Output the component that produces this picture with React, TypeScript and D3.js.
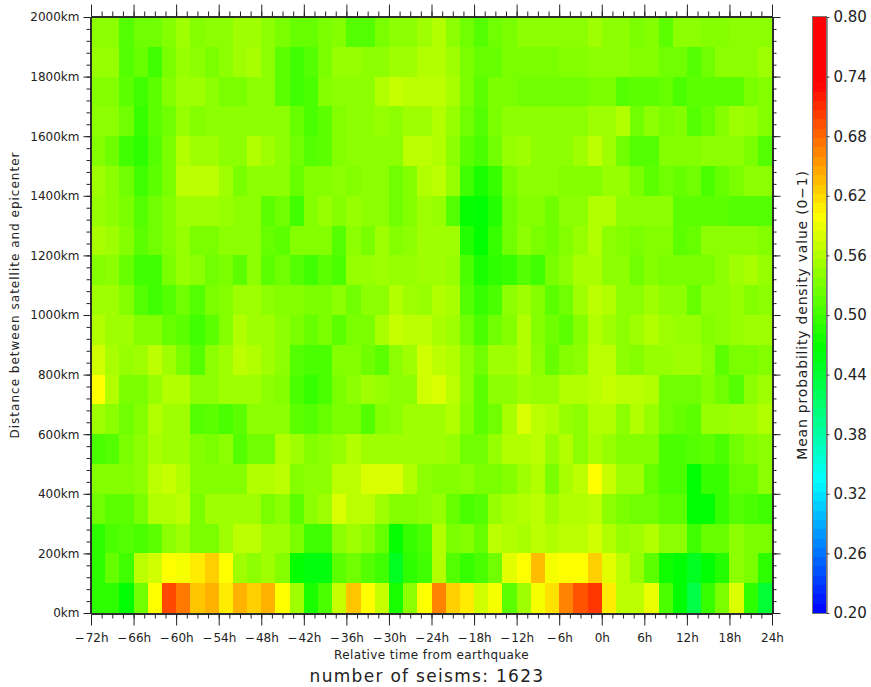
import * as d3 from "d3";
import { useEffect, useRef } from "react";

const width = 871;
const height = 687;

// mean probability density, one list per 100km band, left to right from -72h in 2h steps
const km0 = [.49,.49,.465,.525,.60,.695,.67,.63,.64,.61,.64,.625,.64,.60,.55,.48,.505,.57,.63,.60,.57,.48,.54,.60,.665,.625,.61,.575,.595,.515,.55,.595,.615,.665,.69,.705,.61,.565,.565,.59,.505,.465,.43,.495,.53,.58,.49,.44];
const km100 = [.49,.52,.50,.565,.575,.60,.595,.61,.625,.60,.55,.54,.55,.535,.467,.46,.46,.515,.525,.51,.50,.45,.49,.50,.56,.51,.495,.505,.525,.585,.60,.635,.595,.60,.60,.625,.585,.565,.545,.515,.475,.465,.45,.465,.485,.54,.53,.49];
const km200 = [.49,.505,.51,.505,.515,.54,.55,.53,.53,.55,.565,.565,.55,.55,.53,.50,.50,.54,.55,.54,.52,.47,.495,.505,.56,.53,.535,.52,.565,.56,.555,.565,.56,.565,.565,.575,.56,.545,.55,.56,.54,.54,.50,.52,.52,.54,.53,.53];
const km300 = [.525,.515,.515,.53,.56,.56,.565,.53,.55,.55,.55,.55,.53,.54,.515,.54,.55,.58,.565,.565,.55,.535,.535,.54,.545,.52,.505,.51,.545,.555,.56,.565,.55,.56,.56,.565,.54,.53,.525,.525,.515,.515,.465,.465,.495,.51,.505,.50];
const km400 = [.535,.535,.535,.54,.565,.57,.56,.535,.535,.535,.535,.56,.56,.565,.535,.54,.54,.565,.565,.58,.58,.58,.56,.54,.535,.535,.54,.53,.53,.535,.55,.56,.53,.555,.565,.60,.57,.55,.55,.52,.505,.505,.465,.495,.495,.52,.52,.54];
const km500 = [.505,.51,.53,.54,.555,.55,.55,.535,.53,.54,.51,.525,.525,.56,.55,.535,.54,.545,.56,.55,.55,.55,.55,.55,.55,.545,.525,.525,.545,.56,.56,.565,.545,.56,.54,.555,.545,.535,.535,.535,.505,.505,.51,.515,.505,.525,.535,.54];
const km600 = [.55,.54,.525,.535,.56,.55,.55,.51,.515,.505,.515,.54,.54,.54,.515,.51,.52,.53,.53,.51,.535,.54,.55,.55,.55,.56,.535,.515,.525,.555,.58,.565,.56,.545,.54,.56,.56,.54,.56,.545,.525,.52,.515,.545,.545,.55,.55,.56];
const km700 = [.60,.56,.53,.53,.545,.56,.56,.54,.54,.55,.55,.55,.54,.535,.505,.495,.505,.53,.54,.55,.545,.54,.54,.575,.58,.565,.54,.515,.54,.54,.55,.545,.545,.56,.56,.565,.57,.565,.565,.56,.525,.525,.525,.535,.525,.51,.54,.55];
const km800 = [.575,.555,.545,.55,.565,.55,.53,.51,.54,.55,.565,.56,.55,.54,.51,.505,.505,.535,.535,.525,.515,.54,.55,.575,.565,.56,.54,.525,.55,.55,.56,.54,.52,.535,.54,.565,.565,.54,.535,.545,.545,.55,.55,.54,.515,.53,.53,.535];
const km900 = [.56,.55,.55,.535,.535,.52,.515,.50,.515,.535,.56,.55,.55,.54,.53,.52,.53,.515,.53,.53,.555,.57,.565,.565,.555,.55,.525,.505,.525,.535,.56,.535,.525,.515,.535,.56,.55,.54,.55,.56,.55,.545,.545,.535,.54,.545,.55,.55];
const km1000 = [.55,.55,.535,.51,.50,.51,.525,.51,.53,.535,.55,.55,.54,.535,.535,.53,.53,.54,.525,.54,.54,.56,.55,.545,.56,.555,.51,.495,.505,.54,.55,.535,.515,.525,.55,.565,.56,.54,.54,.55,.54,.54,.52,.54,.54,.545,.535,.54];
const km1100 = [.535,.54,.52,.50,.50,.53,.545,.54,.525,.53,.515,.54,.515,.525,.51,.50,.515,.505,.545,.545,.55,.545,.545,.55,.55,.545,.505,.48,.49,.495,.51,.50,.53,.54,.555,.555,.54,.54,.525,.535,.53,.53,.53,.53,.54,.55,.555,.545];
const km1200 = [.555,.55,.535,.515,.525,.535,.545,.53,.53,.54,.54,.54,.52,.515,.535,.535,.535,.51,.54,.53,.55,.535,.54,.55,.55,.55,.485,.467,.495,.525,.54,.53,.525,.535,.545,.56,.54,.535,.53,.535,.535,.515,.52,.54,.54,.54,.54,.535];
const km1300 = [.545,.54,.53,.51,.525,.535,.55,.55,.55,.545,.54,.54,.515,.525,.50,.535,.545,.535,.545,.54,.54,.525,.535,.55,.545,.51,.47,.465,.485,.525,.535,.535,.525,.54,.54,.56,.56,.54,.54,.54,.54,.515,.515,.515,.515,.51,.51,.51];
const km1400 = [.55,.54,.525,.50,.515,.53,.565,.565,.565,.55,.53,.54,.54,.54,.52,.535,.535,.54,.535,.54,.54,.525,.535,.56,.565,.545,.50,.48,.495,.53,.54,.54,.54,.535,.535,.535,.545,.545,.53,.515,.525,.52,.525,.505,.52,.53,.54,.54];
const km1500 = [.535,.525,.50,.49,.51,.53,.56,.55,.55,.54,.54,.56,.55,.54,.525,.51,.515,.535,.54,.54,.54,.54,.565,.565,.56,.54,.515,.505,.525,.545,.55,.54,.54,.54,.55,.565,.55,.525,.51,.51,.535,.535,.535,.54,.54,.54,.53,.51];
const km1600 = [.54,.54,.525,.495,.515,.525,.545,.535,.54,.54,.54,.54,.54,.54,.52,.505,.515,.535,.54,.54,.545,.54,.55,.55,.56,.545,.525,.51,.53,.54,.54,.54,.54,.54,.54,.55,.55,.56,.525,.54,.53,.535,.51,.52,.535,.55,.545,.535];
const km1700 = [.535,.535,.515,.50,.515,.535,.55,.55,.54,.53,.53,.54,.54,.515,.50,.505,.535,.54,.54,.54,.56,.57,.565,.565,.565,.555,.53,.515,.53,.53,.525,.525,.525,.525,.525,.53,.53,.51,.515,.515,.52,.505,.515,.515,.515,.515,.53,.535];
const km1800 = [.545,.545,.51,.52,.50,.53,.545,.54,.53,.54,.55,.555,.54,.515,.50,.51,.53,.545,.545,.54,.54,.55,.55,.56,.56,.55,.53,.52,.52,.53,.53,.53,.53,.535,.535,.54,.54,.54,.535,.535,.525,.525,.51,.525,.54,.54,.54,.55];
const km1900 = [.54,.54,.51,.525,.525,.535,.55,.535,.54,.54,.55,.55,.54,.53,.52,.52,.53,.535,.51,.51,.53,.54,.54,.55,.56,.54,.525,.51,.525,.53,.54,.54,.54,.54,.54,.55,.54,.54,.53,.535,.515,.54,.54,.535,.535,.54,.54,.54];
const bands = [km0,km100,km200,km300,km400,km500,km600,km700,km800,km900,km1000,km1100,km1200,km1300,km1400,km1500,km1600,km1700,km1800,km1900];

const hourTicks = [-72,-66,-60,-54,-48,-42,-36,-30,-24,-18,-12,-6,0,6,12,18,24];
const kmTicks = [0,200,400,600,800,1000,1200,1400,1600,1800,2000];
const barTicks = [0.2,0.26,0.32,0.38,0.44,0.5,0.56,0.62,0.68,0.74,0.8];
const colorStops = ["#0000ff","#00ffff","#00ff00","#ffff00","#ff0000","#ff0000"];

const x = d3.scaleLinear().domain([-72, 24]).range([91, 772]);
const y = d3.scaleLinear().domain([0, 2000]).range([613, 17]);
const barY = d3.scaleLinear().domain([0.2, 0.8]).range([613, 17]);

const ramp = d3.scaleLinear<string>()
   .domain([0.2, 0.3333, 0.4667, 0.6, 0.7333, 0.8])
   .range(colorStops)
   .interpolate(d3.interpolateRgb);
const levels = d3.range(64).map((i) => 0.2 + ((i + 0.5) * 0.6) / 64);

const minus = (s: string) => s.replace("-", "\u2212\u200a");
const fontFamily = "'DejaVu Sans', sans-serif";
const ink = "#222";

function App() {
   const axes = useRef<SVGGElement>(null);

   useEffect(() => {
      const g = d3.select(axes.current);
      g.selectAll("*").remove();

      const minorHours = d3.range(-72, 24.01, 1.5);
      const minorKm = d3.range(0, 2000.1, 40);

      const draw = (axis: any, tx: number, ty: number, labels: boolean) => {
         const sel = g.append("g").attr("transform", `translate(${tx},${ty})`).call(axis);
         sel.selectAll("line").attr("stroke", ink);
         sel.select(".domain").attr("stroke", ink).attr("stroke-width", 1.5);
         if (labels) {
            sel.selectAll("text").attr("font-family", fontFamily).attr("font-size", 12).attr("fill", ink);
         }
         return sel;
      };

      // bottom
      draw(d3.axisBottom(x).tickValues(minorHours).tickSize(5).tickSizeOuter(0).tickFormat(() => ""), 0, 613.5, false);
      draw(
         d3.axisBottom(x).tickValues(hourTicks).tickSize(12).tickSizeOuter(0).tickPadding(8)
            .tickFormat((d) => minus(`${d}h`)),
         0, 613.5, true,
      );
      // top
      draw(d3.axisTop(x).tickValues(minorHours).tickSize(5).tickSizeOuter(0).tickFormat(() => ""), 0, 16.5, false);
      draw(d3.axisTop(x).tickValues(hourTicks).tickSize(12).tickSizeOuter(0).tickFormat(() => ""), 0, 16.5, false);
      // left
      draw(d3.axisLeft(y).tickValues(minorKm).tickSize(4).tickSizeOuter(0).tickFormat(() => ""), 90.5, 0, false);
      draw(
         d3.axisLeft(y).tickValues(kmTicks).tickSize(7).tickSizeOuter(0).tickPadding(4)
            .tickFormat((d) => `${d}km`),
         90.5, 0, true,
      );
      // right
      draw(d3.axisRight(y).tickValues(minorKm).tickSize(4).tickSizeOuter(0).tickFormat(() => ""), 772.5, 0, false);
      draw(d3.axisRight(y).tickValues(kmTicks).tickSize(8).tickSizeOuter(0).tickFormat(() => ""), 772.5, 0, false);
      // colour bar
      const bar = draw(
         d3.axisRight(barY).tickValues(barTicks).tickSize(3).tickSizeOuter(0).tickPadding(4)
            .tickFormat(d3.format(".2f") as any),
         826.5, 0, true,
      );
      bar.selectAll("text").attr("font-size", 15);
      bar.select(".domain").attr("stroke", "#777");
      bar.selectAll("line").attr("stroke", "#444");
   }, []);

   return (
      <svg
         width={width}
         height={height}
         style={{ position: "absolute", left: 0, top: 0, background: "#fff" }}
      >
         <g shapeRendering="crispEdges">
            {bands.map((vals, r) =>
               vals.map((v, i) => (
                  <rect
                     key={`${r}-${i}`}
                     x={x(-72 + 2 * i)}
                     y={y((r + 1) * 100)}
                     width={x(-70 + 2 * i) - x(-72 + 2 * i)}
                     height={y(r * 100) - y((r + 1) * 100)}
                     fill={ramp(v)}
                  />
               )),
            )}
            {levels.map((v) => (
               <rect
                  key={v}
                  x={813}
                  y={barY(v + 0.6 / 128)}
                  width={13}
                  height={barY(v - 0.6 / 128) - barY(v + 0.6 / 128)}
                  fill={ramp(v)}
               />
            ))}
            <rect x={812.5} y={16.5} width={14} height={597} fill="none" stroke="#777" />
         </g>
         <g ref={axes} />
         <text x={431.5} y={659} textAnchor="middle" fontFamily={fontFamily} fontSize={12} letterSpacing={0.4} fill={ink}>
            Relative time from earthquake
         </text>
         <text x={427} y={682} textAnchor="middle" fontFamily={fontFamily} fontSize={17} letterSpacing={1.3} fill={ink}>
            number of seisms: 1623
         </text>
         <text transform="translate(19,295) rotate(-90)" textAnchor="middle" fontFamily={fontFamily} fontSize={12} letterSpacing={1} fill={ink}>
            Distance between satellite and epicenter
         </text>
         <text transform="translate(807,315) rotate(-90)" textAnchor="middle" fontFamily={fontFamily} fontSize={14} letterSpacing={0.8} fill={ink}>
            Mean probability density value (0{"\u2212"}1)
         </text>
      </svg>
   );
}

export default App;
